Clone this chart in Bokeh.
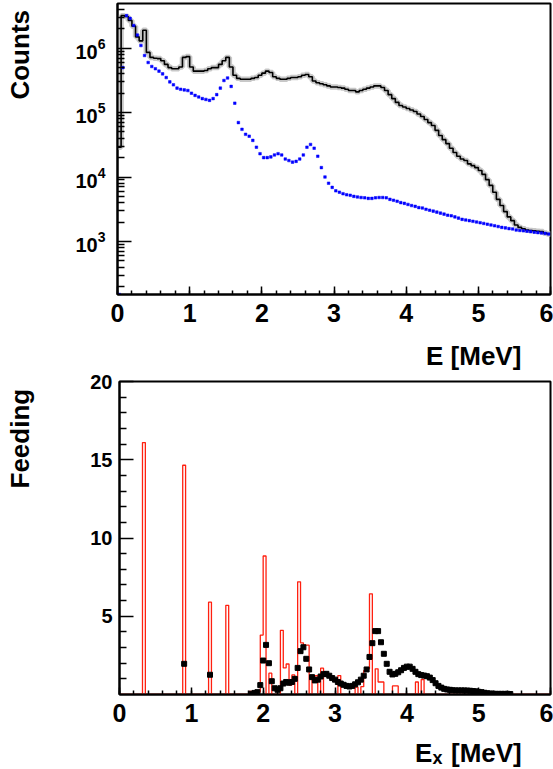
import numpy as np
from bokeh.plotting import figure
from bokeh.models import Range1d, FixedTicker
from bokeh.layouts import column, row
from bokeh.embed import file_html
from bokeh.resources import INLINE
from bokeh.core.properties import value

FONT = "Liberation Sans"

# ---------------- data: top panel (counts vs E) ----------------
top_bin_width = 0.05  # MeV, 120 bins from 0 to 6
black_counts = [
    2.9e4, 3.2e6, 3.1e6, 2.7e6, 2.2e6, 1.5e6, 1.3e6, 1.9e6, 8.6e5, 7.2e5,
    7.0e5, 6.9e5, 6.4e5, 5.6e5, 5.0e5, 4.8e5, 4.8e5, 5.1e5, 7.2e5, 7.4e5,
    5.1e5, 4.4e5, 4.4e5, 4.4e5, 4.5e5, 4.8e5, 5.0e5, 5.0e5, 5.6e5, 6.4e5,
    7.2e5, 5.1e5, 3.8e5, 3.4e5, 3.3e5, 3.3e5, 3.3e5, 3.4e5, 3.5e5, 3.8e5,
    4.1e5, 4.4e5, 4.2e5, 3.6e5, 3.4e5, 3.3e5, 3.3e5, 3.4e5, 3.5e5, 3.5e5,
    3.6e5, 3.8e5, 3.9e5, 3.6e5, 3.1e5, 2.9e5, 2.8e5, 2.7e5, 2.6e5, 2.5e5,
    2.5e5, 2.45e5, 2.4e5, 2.3e5, 2.2e5, 2.2e5, 2.1e5, 2.2e5, 2.3e5, 2.4e5,
    2.5e5, 2.6e5, 2.6e5, 2.45e5, 2.2e5, 1.9e5, 1.65e5, 1.44e5, 1.29e5, 1.22e5,
    1.16e5, 1.1e5, 1.04e5, 9.5e4, 8.7e4, 7.8e4, 7.0e4, 6.3e4, 5.3e4, 4.4e4,
    3.8e4, 3.3e4, 2.8e4, 2.4e4, 2.1e4, 1.9e4, 1.8e4, 1.6e4, 1.5e4, 1.4e4,
    1.26e4, 1.1e4, 9.1e3, 7.4e3, 5.8e3, 4.5e3, 3.6e3, 2.9e3, 2.4e3, 2.1e3,
    1.8e3, 1.65e3, 1.57e3, 1.5e3, 1.48e3, 1.46e3, 1.44e3, 1.42e3, 1.35e3, 1.3e3,
]
blue_counts = [
    1.5e2, 5.0e5, 3.2e6, 2.9e6, 2.25e6, 1.6e6, 1.1e6, 7.7e5, 6.0e5, 5.2e5,
    4.8e5, 4.4e5, 4.0e5, 3.5e5, 3.0e5, 2.7e5, 2.4e5, 2.3e5, 2.25e5, 2.2e5,
    2.0e5, 1.85e5, 1.75e5, 1.65e5, 1.6e5, 1.55e5, 1.65e5, 1.9e5, 2.4e5, 3.15e5,
    3.45e5, 2.55e5, 1.4e5, 7.0e4, 5.5e4, 4.6e4, 4.3e4, 3.7e4, 2.9e4, 2.3e4,
    2.0e4, 2.0e4, 2.05e4, 2.2e4, 2.3e4, 2.2e4, 1.9e4, 1.8e4, 1.7e4, 1.75e4,
    1.9e4, 2.2e4, 2.9e4, 3.2e4, 2.8e4, 2.1e4, 1.4e4, 1.0e4, 8.0e3, 6.9e3,
    6.1e3, 5.8e3, 5.5e3, 5.3e3, 5.2e3, 5.0e3, 4.9e3, 4.8e3, 4.75e3, 4.65e3,
    4.65e3, 4.75e3, 4.8e3, 4.8e3, 4.75e3, 4.5e3, 4.35e3, 4.2e3, 4.0e3, 3.9e3,
    3.75e3, 3.6e3, 3.5e3, 3.35e3, 3.3e3, 3.15e3, 3.05e3, 2.95e3, 2.85e3, 2.75e3,
    2.65e3, 2.55e3, 2.5e3, 2.4e3, 2.3e3, 2.2e3, 2.15e3, 2.1e3, 2.05e3, 2.0e3,
    1.95e3, 1.9e3, 1.85e3, 1.8e3, 1.75e3, 1.7e3, 1.65e3, 1.62e3, 1.58e3, 1.56e3,
    1.5e3, 1.48e3, 1.46e3, 1.44e3, 1.42e3, 1.39e3, 1.37e3, 1.35e3, 1.33e3, 1.3e3,
]

# ---------------- data: bottom panel (feeding vs Ex) ----------------
red_bin_width = 0.04  # MeV, 150 bins from 0 to 6; only non-empty bins listed
red_bin_lo = [0.32, 0.88, 1.24, 1.48, 1.80, 1.84, 1.88, 1.92, 1.96, 2.00,
              2.08, 2.24, 2.28, 2.32, 2.36, 2.40, 2.48, 2.52, 2.56, 2.60,
              2.68, 2.72, 2.80, 3.04, 3.28, 3.36, 3.40, 3.44, 3.48, 3.56,
              3.60, 3.64, 3.80, 3.84, 4.12, 4.20]
red_feeding = [16.1, 14.65, 5.9, 5.7, 0.2, 0.15, 0.15, 0.15, 3.8, 8.85,
               1.36, 4.1, 1.7, 1.95, 0.6, 1.25, 7.2, 3.3, 3.15, 3.15,
               1.0, 1.2, 1.68, 1.21, 0.47, 0.5, 1.53, 1.64, 6.43, 1.64,
               0.8, 0.8, 0.55, 0.55, 0.8, 0.96]

sq_E = [0.90, 1.26,
        1.84, 1.88, 1.92, 1.96, 2.00, 2.04, 2.08, 2.12, 2.16, 2.20,
        2.24, 2.28, 2.32, 2.36, 2.40, 2.44, 2.48, 2.52, 2.56, 2.60,
        2.64, 2.68, 2.72, 2.76, 2.80, 2.84, 2.88, 2.92, 2.96, 3.00,
        3.04, 3.08, 3.12, 3.16, 3.20, 3.24, 3.28, 3.32, 3.36, 3.40,
        3.44, 3.48, 3.52, 3.56, 3.60, 3.64, 3.68, 3.72, 3.76, 3.80,
        3.84, 3.88, 3.92, 3.96, 4.00, 4.04, 4.08, 4.12, 4.16, 4.20,
        4.24, 4.28, 4.32, 4.36, 4.40, 4.44, 4.48, 4.52, 4.56, 4.60,
        4.64, 4.68, 4.72, 4.76, 4.80, 4.84, 4.88, 4.92, 4.96, 5.00,
        5.04, 5.08, 5.12, 5.16, 5.20, 5.24, 5.28, 5.32, 5.36, 5.40, 5.44]
sq_feeding = [1.96, 1.26,
              0.05, 0.10, 0.15, 0.60, 2.17, 3.17, 2.00, 0.85, 0.40, 0.30,
              0.40, 0.70, 0.80, 0.75, 0.80, 1.00, 1.70, 2.77, 3.02, 2.28,
              1.60, 1.11, 0.90, 0.95, 1.15, 1.30, 1.32, 1.20, 1.05, 0.95,
              0.80, 0.70, 0.62, 0.55, 0.51, 0.55, 0.65, 0.78, 0.95, 1.20,
              1.60, 2.40, 3.28, 4.05, 4.05, 3.34, 2.60, 1.96, 1.45, 1.28,
              1.32, 1.42, 1.55, 1.70, 1.78, 1.78, 1.64, 1.45, 1.30, 1.24,
              1.21, 1.17, 1.08, 0.92, 0.72, 0.55, 0.44, 0.36, 0.32, 0.30,
              0.27, 0.26, 0.26, 0.26, 0.26, 0.25, 0.24, 0.22, 0.20, 0.17,
              0.15, 0.11, 0.08, 0.06, 0.05, 0.04, 0.04, 0.04, 0.04, 0.04, 0.03]

x_ticks = [0, 1, 2, 3, 4, 5, 6]
top_y_ticks = [1e3, 1e4, 1e5, 1e6]
bot_y_ticks = [5, 10, 15, 20]


def stairs(edges, vals):
    xs = np.repeat(edges, 2)[1:-1]
    ys = np.repeat(np.asarray(vals, dtype=float), 2)
    return xs, ys


def style_x(ax, tick_in, minor_in):
    ax.ticker = FixedTicker(ticks=x_ticks,
                            minor_ticks=[round(i * 0.2, 2) for i in range(31)])
    ax.major_tick_in = tick_in
    ax.major_tick_out = 0
    ax.minor_tick_in = minor_in
    ax.minor_tick_out = 0
    ax.major_tick_line_width = 1.5
    ax.minor_tick_line_width = 1.5
    ax.axis_line_width = 2
    ax.major_label_text_font = FONT
    ax.major_label_text_font_style = "bold"
    ax.major_label_text_font_size = "25px"
    ax.major_label_text_color = "black"
    ax.major_label_standoff = 9


def style_y(ax, standoff):
    ax.major_tick_in = 14
    ax.major_tick_out = 0
    ax.minor_tick_in = 7
    ax.minor_tick_out = 0
    ax.major_tick_line_width = 1.5
    ax.minor_tick_line_width = 1.5
    ax.axis_line_width = 2
    ax.major_label_text_font = FONT
    ax.major_label_text_font_style = "bold"
    ax.major_label_text_font_size = "20px"
    ax.major_label_text_color = "black"
    ax.major_label_standoff = standoff


def text_strip(w, h):
    s = figure(width=w, height=h, x_range=Range1d(0, w), y_range=Range1d(0, h),
               output_backend="svg", toolbar_location=None, title=None,
               x_axis_location=None, y_axis_location=None,
               min_border=0, min_border_left=0, min_border_right=0,
               min_border_top=0, min_border_bottom=0)
    s.grid.visible = False
    s.outline_line_color = None
    s.background_fill_color = "white"
    s.border_fill_color = "white"
    return s


# observed shift of rendered text relative to its anchor, in the text's own
# frame (along reading direction, along descent direction), in pixels
SHIFT_READ, SHIFT_DOWN = -9.5, 8.5


def put_text(s, left, top, h, px, py, txt, size, vertical=False, align="left"):
    """px, py: wanted page position of the baseline anchor."""
    if vertical:
        ax = px - SHIFT_DOWN
        ay = py + SHIFT_READ
    else:
        ax = px - SHIFT_READ
        ay = py - SHIFT_DOWN
    s.text(x=[ax - left], y=[h - (ay - top)], text=[txt],
           angle=(np.pi / 2 if vertical else 0.0), text_align=align,
           text_baseline="alphabetic", text_font=value(FONT),
           text_font_style="bold", text_font_size=size, text_color="black")


# page layout (pixels from page top-left; the page has no margin)
LW = 40
H1, T1H, H2 = 336, 36, 363
W = 553
Y1 = 0
YT1 = Y1 + H1
Y2 = YT1 + T1H
YT2 = Y2 + H2
T2H = 769 - YT2

# ---------------- top figure ----------------
f1_left, f1_right, f1_top, f1_bottom = 117, 550, 3, 294
dec1 = 64.4
def top_val(py):
    return 10 ** (6 - (py - 47.7) / dec1)

p1 = figure(width=W - LW, height=H1, x_range=Range1d(0, 6),
            y_range=Range1d(top_val(f1_bottom), top_val(f1_top)), y_axis_type="log",
            output_backend="svg", toolbar_location=None,
            min_border_left=f1_left - LW, min_border_right=W - f1_right,
            min_border_top=f1_top - Y1, min_border_bottom=Y1 + H1 - f1_bottom)
p1.grid.visible = False
p1.outline_line_color = "black"
p1.outline_line_width = 2
p1.background_fill_color = "white"
p1.border_fill_color = "white"

style_x(p1.xaxis[0], 8, 4)
style_y(p1.yaxis[0], 12)
minor_log = [m * 10 ** k for k in range(2, 7) for m in range(2, 10)]
minor_log = [v for v in minor_log if top_val(f1_bottom) < v < top_val(f1_top)]
p1.yaxis[0].ticker = FixedTicker(ticks=top_y_ticks, minor_ticks=minor_log)

edges1 = np.arange(len(black_counts) + 1) * top_bin_width
centers1 = edges1[:-1] + top_bin_width / 2
bx, by = stairs(edges1, black_counts)
p1.line(bx, by, line_color="#c8c8c8", line_width=5.5)
p1.line(bx, by, line_color="black", line_width=1.6)
p1.scatter(centers1, blue_counts, marker="square", size=2.6,
           fill_color="#0000ff", line_color="#0000ff", line_width=0.5)

L1 = text_strip(LW, H1)
put_text(L1, 0, Y1, H1, 28, 17, "Counts", "26px", vertical=True, align="right")

T1 = text_strip(W, T1H)
put_text(T1, 0, YT1, T1H, 416, 363.5, "E [MeV]", "26px")

# ---------------- bottom figure ----------------
f2_left, f2_right, f2_top, f2_bottom = 119, 550, 381, 694

p2 = figure(width=W - LW, height=H2, x_range=Range1d(0, 6), y_range=Range1d(0, 20),
            output_backend="svg", toolbar_location=None,
            min_border_left=f2_left - LW, min_border_right=W - f2_right,
            min_border_top=f2_top - Y2, min_border_bottom=Y2 + H2 - f2_bottom)
p2.grid.visible = False
p2.outline_line_color = "black"
p2.outline_line_width = 2
p2.background_fill_color = "white"
p2.border_fill_color = "white"

style_x(p2.xaxis[0], 7, 4)
style_y(p2.yaxis[0], 7)
p2.yaxis[0].ticker = FixedTicker(ticks=bot_y_ticks,
                                 minor_ticks=[v for v in range(1, 20) if v % 5])

nbins2 = int(round(6.0 / red_bin_width))
red_full = np.zeros(nbins2)
for lo, v in zip(red_bin_lo, red_feeding):
    red_full[int(round(lo / red_bin_width))] = v
edges2 = np.arange(nbins2 + 1) * red_bin_width
rx, ry = stairs(edges2, red_full)
p2.line(rx, ry, line_color="#ff2010", line_width=1.3)
p2.scatter(sq_E, sq_feeding, marker="square", size=5, fill_color="black",
           line_color="black")

L2 = text_strip(LW, H2)
put_text(L2, 0, Y2, H2, 28, 390, "Feeding", "26px", vertical=True, align="right")

T2 = text_strip(W, T2H)
put_text(T2, 0, YT2, T2H, 405, 761, "E", "26px")
put_text(T2, 0, YT2, T2H, 422.6, 765.5, "x", "18px")
put_text(T2, 0, YT2, T2H, 441, 761, "[MeV]", "26px")

layout = column(row(L1, p1, spacing=0), T1, row(L2, p2, spacing=0), T2, spacing=0)
open("out.html", "w").write(file_html(layout, INLINE))
